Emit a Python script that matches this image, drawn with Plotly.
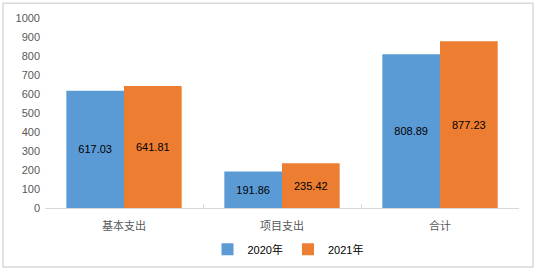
import plotly.graph_objects as go

categories = ["基本支出", "项目支出", "合计"]
series_names = ["2020年", "2021年"]
values_2020 = [617.03, 191.86, 808.89]
values_2021 = [641.81, 235.42, 877.23]
y_ticks = [0, 100, 200, 300, 400, 500, 600, 700, 800, 900, 1000]

colors = ["#5B9BD5", "#ED7D31"]
font_family = "Liberation Sans, Noto Sans CJK SC, sans-serif"

fig = go.Figure()
for name, vals, col in zip(series_names, [values_2020, values_2021], colors):
    fig.add_trace(go.Bar(
        x=categories, y=vals, name=name, marker=dict(color=col, line=dict(width=0)),
        text=[f"{v:.2f}" for v in vals], textposition="inside",
        insidetextanchor="middle",
        textfont=dict(color="black", size=11, family=font_family),
        cliponaxis=False,
    ))

L, R, T, B = 45, 20, 18, 65
W, H = 539, 276
pw, ph = W - L - R, H - T - B

fig.update_layout(
    width=W, height=H,
    margin=dict(l=L, r=R, t=T, b=B),
    paper_bgcolor="white", plot_bgcolor="white",
    barmode="group", bargap=0.27, bargroupgap=0,
    font=dict(family=font_family, size=11, color="#595959"),
    showlegend=True,
    legend=dict(orientation="h", x=0.5 + 6 / pw, xanchor="center",
                y=(T + ph - 253) / ph, yanchor="middle",
                font=dict(size=11, color="black"),
                itemwidth=30, traceorder="normal", tracegroupgap=0),
    xaxis=dict(showline=True, linecolor="#D9D9D9", linewidth=1,
               ticks="inside", ticklen=4, tickcolor="#D9D9D9",
               tickson="boundaries", showgrid=False,
               tickfont=dict(size=11, color="#595959"),
               ticklabelstandoff=8,
               ),
    yaxis=dict(range=[0, 1000], tickvals=y_ticks, showgrid=False,
               showline=False, zeroline=False,
               tickfont=dict(size=11, color="#595959"), ticks="", ticklabelstandoff=4),
    shapes=[dict(type="rect", xref="paper", yref="paper",
                 x0=(3 - L) / pw, x1=(533 - L) / pw,
                 y0=(T + ph - 271) / ph, y1=(T + ph - 3) / ph,
                 line=dict(color="#D9D9D9", width=1.5), fillcolor="rgba(0,0,0,0)", layer="below")],
)

fig.write_html("out.html")
